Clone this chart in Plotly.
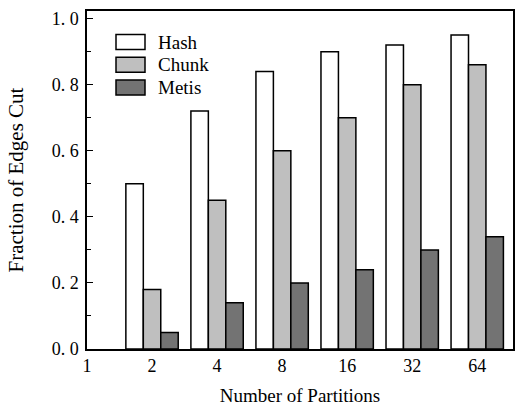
import plotly.graph_objects as go

categories = ["1", "2", "4", "8", "16", "32", "64"]
bar_categories = ["2", "4", "8", "16", "32", "64"]
series_names = ["Hash", "Chunk", "Metis"]
hash_vals = [0.50, 0.72, 0.84, 0.90, 0.92, 0.95]
chunk_vals = [0.18, 0.45, 0.60, 0.70, 0.80, 0.86]
metis_vals = [0.05, 0.14, 0.20, 0.24, 0.30, 0.34]
y_tick_vals = [0.0, 0.2, 0.4, 0.6, 0.8, 1.0]
y_tick_text = ["0. 0", "0. 2", "0. 4", "0. 6", "0. 8", "1. 0"]
colors = ["#ffffff", "#bfbfbf", "#737373"]

W, H = 529, 406
ML, MR, MT, MB = 87, 16, 11, 57
FONT = "Liberation Serif"

fig = go.Figure()
for name, vals, col in zip(series_names, [hash_vals, chunk_vals, metis_vals], colors):
    fig.add_trace(go.Bar(
        x=bar_categories, y=vals, name=name,
        marker=dict(color=col, line=dict(color="black", width=1.5)),
        showlegend=False,
    ))

# custom legend (rectangular swatches like the reference)
pw = W - ML - MR
ph = H - MT - MB
def px2x(px):
    return (px - ML) / pw
def py2y(py):
    return (H - MB - py) / ph

shapes = []
annotations = []
for i, (name, col) in enumerate(zip(series_names, colors)):
    top = 34.5 + i * 22.8
    shapes.append(dict(type="rect", xref="paper", yref="paper",
                       x0=px2x(116), x1=px2x(145), y0=py2y(top + 15), y1=py2y(top),
                       fillcolor=col, line=dict(color="black", width=1.5)))
    annotations.append(dict(text=name, xref="paper", yref="paper",
                            x=px2x(156), y=py2y(top + 7.5), xanchor="left", yanchor="middle",
                            showarrow=False, font=dict(family=FONT, size=19, color="black")))

fig.update_layout(
    width=W, height=H,
    margin=dict(l=ML, r=MR, t=MT, b=MB),
    paper_bgcolor="white", plot_bgcolor="white",
    barmode="group", bargap=0.195, bargroupgap=0,
    font=dict(family=FONT, size=18, color="black"),
    shapes=shapes, annotations=annotations,
    xaxis=dict(
        type="category", categoryorder="array", categoryarray=categories,
        range=[0, 6.55], showline=True, linecolor="black", linewidth=1.5, mirror=True,
        ticks="", showgrid=False, zeroline=False, automargin=False,
        tickfont=dict(family=FONT, size=18),
        title=dict(text="Number of Partitions", font=dict(family=FONT, size=19), standoff=20),
    ),
    yaxis=dict(
        range=[0, 1.023], showline=True, linecolor="black", linewidth=1.5, mirror=True,
        tickmode="array", tickvals=y_tick_vals, ticktext=y_tick_text,
        ticks="inside", ticklen=6, tickwidth=1.2, tickcolor="black",
        minor=dict(dtick=0.1, ticks="inside", ticklen=4, tickwidth=1.2, tickcolor="black"),
        showgrid=False, zeroline=False, ticklabelstandoff=3, automargin=False,
        tickfont=dict(family=FONT, size=18),
        title=dict(text="Fraction of Edges Cut", font=dict(family=FONT, size=21), standoff=22),
    ),
)

fig.write_html("out.html")
